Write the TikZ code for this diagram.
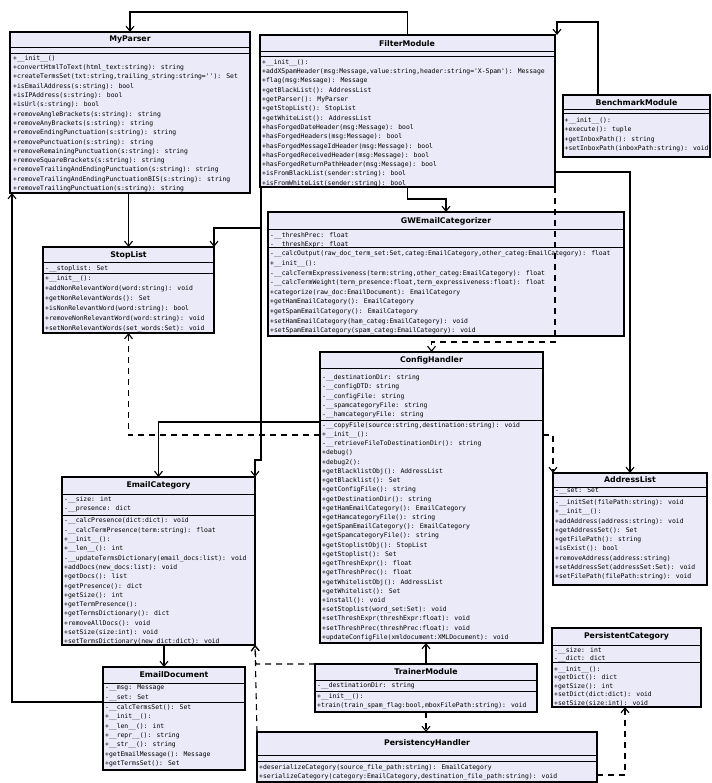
\documentclass[tikz,border=0pt]{standalone}
\usepackage{fontspec}
\setmainfont{DejaVu Sans}
\newfontfamily\memberfont{DejaVu Sans Mono}
\usetikzlibrary{arrows.meta}
\definecolor{boxfill}{RGB}{234,234,248}
\tikzset{
  classbox/.style={draw=black, line width=1.2pt, fill=boxfill, inner sep=0pt, outer sep=0pt},
  sep/.style={line width=1pt},
  ctitle/.style={font=\fontsize{7.8}{9}\selectfont\bfseries, inner sep=0pt},
  members/.style={font=\memberfont\fontsize{6.4}{9.3}\selectfont, align=left, anchor=north west, inner sep=0pt},
  assoc/.style={line width=1.1pt, -{Straight Barb[length=5pt,width=8pt]}},
  dep/.style={line width=1.1pt, dash pattern=on 6pt off 5pt, -{Straight Barb[length=5pt,width=8pt]}},
}
\newcommand\umlclass[7]{%
  \node[classbox, minimum width={#4-#2}, minimum height={#5-#3}, anchor=north west] (#1) at (#2,#3) {};
  \draw[sep] (#2,#6) -- (#4,#6);
  \draw[sep] (#2,#7) -- (#4,#7);
}
\begin{document}
\begin{tikzpicture}[x=1pt,y=-1pt]
\useasboundingbox (0,0) rectangle (711,783);
\fill[white] (0,0) rectangle (711,783);

% ---------------- MyParser
\umlclass{MyParser}{10}{32}{250}{193}{48}{54}
\node[ctitle] (MyParser-t) at (130,40) {MyParser};
\node[members] (MyParser-m) at (13,55.3) {%
+\_\_init\_\_()\\
+convertHtmlToText(html\_text:string): string\\
+createTermsSet(txt:string,trailing\_string:string=''): Set\\
+isEmailAddress(s:string): bool\\
+isIPAddress(s:string): bool\\
+isUrl(s:string): bool\\
+removeAngleBrackets(s:string): string\\
+removeAnyBrackets(s:string): string\\
+removeEndingPunctuation(s:string): string\\
+removePunctuation(s:string): string\\
+removeRemainingPunctuation(s:string): string\\
+removeSquareBrackets(s:string): string\\
+removeTrailingAndEndingPunctuation(s:string): string\\
+removeTrailingAndEndingPunctuationBIS(s:string): string\\
+removeTrailingPunctuation(s:string): string};

% ---------------- FilterModule
\umlclass{FilterModule}{260}{35}{555}{187}{52}{57}
\node[ctitle] (FilterModule-t) at (407,43.5) {FilterModule};
\node[members] (FilterModule-m) at (262,59.3) {%
+\_\_init\_\_():\\
+addXSpamHeader(msg:Message,value:string,header:string='X-Spam'): Message\\
+flag(msg:Message): Message\\
+getBlackList(): AddressList\\
+getParser(): MyParser\\
+getStopList(): StopList\\
+getWhiteList(): AddressList\\
+hasForgedDateHeader(msg:Message): bool\\
+hasForgedHeaders(msg:Message): bool\\
+hasForgedMessageIdHeader(msg:Message): bool\\
+hasForgedReceivedHeader(msg:Message): bool\\
+hasForgedReturnPathHeader(msg:Message): bool\\
+isFromBlackList(sender:string): bool\\
+isFromWhiteList(sender:string): bool};

% ---------------- BenchmarkModule
\umlclass{BenchmarkModule}{563}{95}{710}{157}{110}{114}
\node[ctitle] (BenchmarkModule-t) at (636.5,102.5) {BenchmarkModule};
\node[members] (BenchmarkModule-m) at (564.5,117.5) {%
+\_\_init\_\_():\\
+execute(): tuple\\
+getInboxPath(): string\\
+setInboxPath(inboxPath:string): void};

% ---------------- GWEmailCategorizer
\umlclass{GWEmailCategorizer}{268}{212}{624}{336}{230}{248}
\node[ctitle] (GWEmailCategorizer-t) at (446,221) {GWEmailCategorizer};
\node[members] (GWEmailCategorizer-a) at (270,232) {%
-\_\_threshPrec: float\\
-\_\_threshExpr: float};
\node[members, font=\memberfont\fontsize{6.4}{9.6}\selectfont] (GWEmailCategorizer-m) at (270,250.8) {%
-\_\_calcOutput(raw\_doc\_term\_set:Set,categ:EmailCategory,other\_categ:EmailCategory): float\\
+\_\_init\_\_():\\
-\_\_calcTermExpressiveness(term:string,other\_categ:EmailCategory): float\\
-\_\_calcTermWeight(term\_presence:float,term\_expressiveness:float): float\\
+categorize(raw\_doc:EmailDocument): EmailCategory\\
+getHamEmailCategory(): EmailCategory\\
+getSpamEmailCategory(): EmailCategory\\
+setHamEmailCategory(ham\_categ:EmailCategory): void\\
+setSpamEmailCategory(spam\_categ:EmailCategory): void};

% ---------------- StopList
\umlclass{StopList}{43}{247}{214}{333}{263}{273}
\node[ctitle] (StopList-t) at (128.5,255) {StopList};
\node[members] (StopList-a) at (45,265) {-\_\_stoplist: Set};
\node[members, font=\memberfont\fontsize{6.4}{10}\selectfont] (StopList-m) at (45,275.8) {%
+\_\_init\_\_():\\
+addNonRelevantWord(word:string): void\\
+getNonRelevantWords(): Set\\
+isNonRelevantWord(word:string): bool\\
+removeNonRelevantWord(word:string): void\\
+setNonRelevantWords(set\_words:Set): void};

% ---------------- ConfigHandler
\umlclass{ConfigHandler}{320}{352}{543}{643}{368}{420}
\node[ctitle] (ConfigHandler-t) at (431.5,360) {ConfigHandler};
\node[members] (ConfigHandler-a) at (322,374.6) {%
-\_\_destinationDir: string\\
-\_\_configDTD: string\\
-\_\_configFile: string\\
-\_\_spamcategoryFile: string\\
-\_\_hamcategoryFile: string};
\node[members, font=\memberfont\fontsize{6.4}{9.22}\selectfont] (ConfigHandler-m) at (322,422.2) {%
-\_\_copyFile(source:string,destination:string): void\\
+\_\_init\_\_():\\
-\_\_retrieveFileToDestinationDir(): string\\
+debug()\\
+debug2():\\
+getBlacklistObj(): AddressList\\
+getBlacklist(): Set\\
+getConfigFile(): string\\
+getDestinationDir(): string\\
+getHamEmailCategory(): EmailCategory\\
+getHamcategoryFile(): string\\
+getSpamEmailCategory(): EmailCategory\\
+getSpamcategoryFile(): string\\
+getStoplistObj(): StopList\\
+getStoplist(): Set\\
+getThreshExpr(): float\\
+getThreshPrec(): float\\
+getWhitelistObj(): AddressList\\
+getWhitelist(): Set\\
+install(): void\\
+setStoplist(word\_set:Set): void\\
+setThreshExpr(threshExpr:float): void\\
+setThreshPrec(threshPrec:float): void\\
+updateConfigFile(xmldocument:XMLDocument): void};

% ---------------- EmailCategory
\umlclass{EmailCategory}{62}{477}{255}{645}{494}{515}
\node[ctitle] (EmailCategory-t) at (158.5,485.5) {EmailCategory};
\node[members] (EmailCategory-a) at (64,496.5) {%
-\_\_size: int\\
-\_\_presence: dict};
\node[members] (EmailCategory-m) at (64,517.8) {%
-\_\_calcPresence(dict:dict): void\\
-\_\_calcTermPresence(term:string): float\\
+\_\_init\_\_():\\
+\_\_len\_\_(): int\\
-\_\_updateTermsDictionary(email\_docs:list): void\\
+addDocs(new\_docs:list): void\\
+getDocs(): list\\
+getPresence(): dict\\
+getSize(): int\\
+getTermPresence():\\
+getTermsDictionary(): dict\\
+removeAllDocs(): void\\
+setSize(size:int): void\\
+setTermsDictionary(new\_dict:dict): void};

% ---------------- AddressList
\umlclass{AddressList}{553}{473}{707}{585}{487}{496}
\node[ctitle] (AddressList-t) at (630,480) {AddressList};
\node[members] (AddressList-a) at (555,488) {-\_\_set: Set};
\node[members] (AddressList-m) at (555,499.3) {%
-\_\_initSet(filePath:string): void\\
+\_\_init\_\_():\\
+addAddress(address:string): void\\
+getAddressSet(): Set\\
+getFilePath(): string\\
+isExist(): bool\\
+removeAddress(address:string)\\
+setAddressSet(addressSet:Set): void\\
+setFilePath(filePath:string): void};

% ---------------- PersistentCategory
\umlclass{PersistentCategory}{552}{628}{701}{707}{645}{662}
\node[ctitle] (PersistentCategory-t) at (626.5,636.5) {PersistentCategory};
\node[members, font=\memberfont\fontsize{6.4}{8.3}\selectfont] (PersistentCategory-a) at (554,647) {%
-\_\_size: int\\
-\_\_dict: dict};
\node[members, font=\memberfont\fontsize{6.4}{8.5}\selectfont] (PersistentCategory-m) at (554,666) {%
+\_\_init\_\_():\\
+getDict(): dict\\
+getSize(): int\\
+setDict(dict:dict): void\\
+setSize(size:int): void};

% ---------------- EmailDocument
\umlclass{EmailDocument}{103}{667}{245}{770}{683}{702}
\node[ctitle] (EmailDocument-t) at (174,675) {EmailDocument};
\node[members] (EmailDocument-a) at (105,685) {%
-\_\_msg: Message\\
-\_\_set: Set};
\node[members] (EmailDocument-m) at (105,704.5) {%
-\_\_calcTermsSet(): Set\\
+\_\_init\_\_():\\
+\_\_len\_\_(): int\\
+\_\_repr\_\_(): string\\
+\_\_str\_\_(): string\\
+getEmailMessage(): Message\\
+getTermsSet(): Set};

% ---------------- TrainerModule
\umlclass{TrainerModule}{315}{664}{537}{712}{680}{691}
\node[ctitle] (TrainerModule-t) at (426,672) {TrainerModule};
\node[members] (TrainerModule-a) at (317,682) {-\_\_destinationDir: string};
\node[members] (TrainerModule-m) at (317,693.5) {%
+\_\_init\_\_():\\
+train(train\_spam\_flag:bool,mboxFilePath:string): void};

% ---------------- PersistencyHandler
\umlclass{PersistencyHandler}{257}{732}{597}{782}{755}{761}
\node[ctitle] (PersistencyHandler-t) at (427,743.5) {PersistencyHandler};
\node[members] (PersistencyHandler-m) at (259,764) {%
+deserializeCategory(source\_file\_path:string): EmailCategory\\
+serializeCategory(category:EmailCategory,destination\_file\_path:string): void};

% ---------------- connectors
\draw[assoc] (FilterModule.north) -- ++(0,-23) -| (MyParser.north);
\coordinate (bm1) at (598,22);
\draw[assoc] (BenchmarkModule.north -| bm1) -- (bm1) -| (557,35);
\draw[assoc] (FilterModule.south) -- ++(0,12) -| (GWEmailCategorizer.north);
\draw[assoc] (MyParser.south -| StopList.north) -- (StopList.north);
\draw[assoc] (FilterModule.south -| 261,0) -- (261,228) -| (StopList.north east);
\draw[assoc] (261,228) -- (261,460) -| (EmailCategory.north east);
\draw[assoc] (ConfigHandler.west |- 0,422) -- (158.5,422) -- (EmailCategory.north);
\draw[dep] (ConfigHandler.west |- 0,435) -- (128.5,435) -- (StopList.south);
\draw[dep] (ConfigHandler.east |- 0,435) -| (AddressList.north west);
\draw[dep] (FilterModule.south east) -- (555,342) -| (ConfigHandler.north);
\draw[assoc] (FilterModule.east |- 0,172) -| (AddressList.north);
\draw[assoc] (TrainerModule.north) -- (ConfigHandler.south -| TrainerModule.north);
\draw[dep] (TrainerModule.south) -- (PersistencyHandler.north -| TrainerModule.south);
\draw[dep] (TrainerModule.north west) -- (256,664) -- (EmailCategory.south east);
\draw[dep] (PersistencyHandler.north west) -- (EmailCategory.south east);
\draw[dep] (PersistencyHandler.east |- 0,775) -- (625,775) -- (PersistentCategory.south -| 625,0);
\draw[assoc] (EmailCategory.south -| 164,0) -- (EmailDocument.north -| 164,0);
\draw[assoc] (EmailDocument.west |- 0,702) -- (12,702) -- (MyParser.south west -| 12,0);
\end{tikzpicture}
\end{document}
